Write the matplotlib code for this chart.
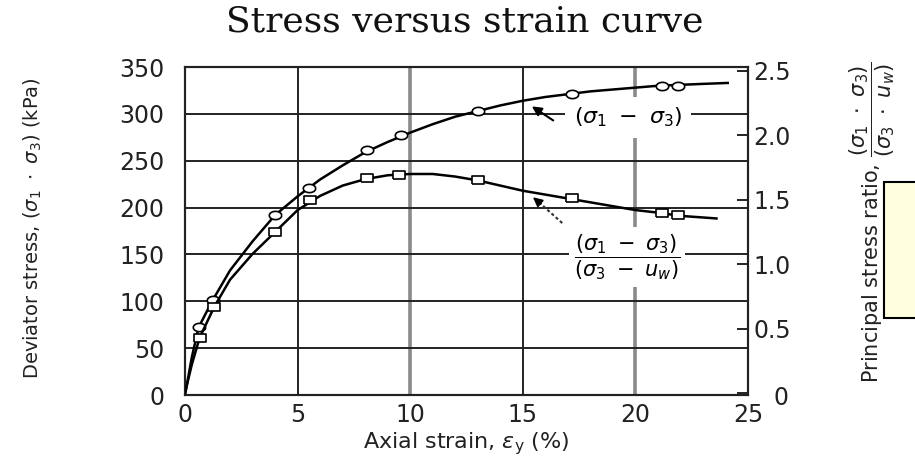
import math
import matplotlib
matplotlib.use('Agg')
import matplotlib.pyplot as plt
import matplotlib.transforms as mtransforms
from matplotlib.patches import Rectangle

# Measured points: deviator stress (kPa) vs axial strain (%)
strain_dev = [0.6, 1.25, 4.0, 5.5, 8.1, 9.6, 13.0, 17.2, 21.2, 21.9]
dev_stress = [73, 101, 192, 221, 261, 277, 303, 321, 330, 330]

# Measured points: principal stress ratio vs axial strain (%)
strain_ratio = [0.65, 1.3, 4.0, 5.55, 8.1, 9.5, 13.0, 17.2, 21.2, 21.9]
stress_ratio = [0.43, 0.67, 1.25, 1.50, 1.67, 1.69, 1.65, 1.51, 1.40, 1.38]

# Smooth curves drawn through the test points
curve_strain_dev = [0, 0.3, 0.6, 1.2, 2, 3, 4, 5, 6, 7, 8, 9, 10, 11, 12, 13,
                    14, 15, 16, 17, 18, 19, 20, 21, 22, 23, 24.1]
curve_dev = [0, 40, 72, 100, 133, 164, 192, 212, 230, 245, 259, 270, 280, 289,
             297, 303, 309, 314, 318, 321, 324, 326, 328, 330, 331, 332, 333]

curve_strain_ratio = [0, 0.3, 0.65, 1.3, 2, 3, 4, 5, 6, 7, 8, 9, 10, 11, 12,
                      13, 14, 15, 16, 17, 18, 19, 20, 21, 22, 23.6]
curve_ratio = [0, 0.22, 0.43, 0.67, 0.88, 1.08, 1.25, 1.42, 1.53, 1.61, 1.66,
               1.69, 1.70, 1.70, 1.68, 1.65, 1.61, 1.57, 1.54, 1.51, 1.48,
               1.45, 1.42, 1.40, 1.375, 1.355]

x_ticks = [0, 5, 10, 15, 20, 25]
y_ticks = [0, 50, 100, 150, 200, 250, 300, 350]
ratio_ticks = [0, 0.5, 1.0, 1.5, 2.0, 2.5]
ratio_labels = ['0', '0.5', '1.0', '1.5', '2.0', '2.5']

plt.rcParams['font.family'] = ['DejaVu Sans']
plt.rcParams['mathtext.fontset'] = 'dejavusans'
INK = '#222222'

fig = plt.figure(figsize=(9.15, 4.59), dpi=100)
ax = fig.add_axes([0.2022, 0.1394, 0.6153, 0.7146])
ax2 = ax.twinx()

ax.set_xlim(0, 25)
ax.set_ylim(0, 350)
ax2.set_ylim(-0.015, 2.53)

# grid drawn by hand so the 10 and 20 lines can be the faded grey ones
for xv in x_ticks[1:-1]:
    if xv in (10, 20):
        ax.axvline(xv, color='#8a8a8a', lw=2.6, zorder=0.5)
    else:
        ax.axvline(xv, color='#222222', lw=1.4, zorder=0.5)
for yv in y_ticks[1:-1]:
    ax.axhline(yv, color='#222222', lw=1.4, zorder=0.5)

# wide markers: oval for stress, flat box for ratio
rect = [(-1.5, -1), (1.5, -1), (1.5, 1), (-1.5, 1), (-1.5, -1)]
oval = [(1.5 * math.cos(t / 20 * 2 * math.pi), math.sin(t / 20 * 2 * math.pi))
        for t in range(21)]

ax.plot(curve_strain_dev, curve_dev, color='black', lw=1.8, zorder=4)
ax.plot(strain_dev, dev_stress, linestyle='none', marker=oval, ms=9,
        mfc='white', mec='black', mew=1.2, zorder=5)

ax2.plot(curve_strain_ratio, curve_ratio, color='black', lw=1.8, zorder=4)
ax2.plot(strain_ratio, stress_ratio, linestyle='none', marker=rect, ms=9,
         mfc='white', mec='black', mew=1.2, zorder=5)

# ticks and labels
ax.set_xticks(x_ticks)
ax.set_yticks(y_ticks)
ax.tick_params(axis='x', length=0, pad=6, labelsize=17, colors=INK)
ax.tick_params(axis='y', length=0, pad=15, labelsize=17, colors=INK)
ax2.set_yticks(ratio_ticks)
ax2.set_yticklabels(ratio_labels)
ax2.tick_params(axis='y', direction='in', length=8, width=1.4, pad=4,
                labelsize=17, colors=INK)

for a in (ax, ax2):
    for s in a.spines.values():
        s.set_linewidth(1.5)
        s.set_color(INK)

fig.canvas.draw()
zero_lbl = ax2.get_yticklabels()[0]
zero_lbl.set_transform(zero_lbl.get_transform() +
                       mtransforms.ScaledTranslation(0.2, -0.02, fig.dpi_scale_trans))

ax.set_xlabel(r'Axial strain, $\epsilon_\mathrm{y}$ (%)', fontsize=16, color=INK)
ax.xaxis.set_label_coords(0.5, -0.107)
ax.set_ylabel(r'Deviator stress, $(\sigma_1\ \cdot\ \sigma_3)$ (kPa)',
              fontsize=14, color=INK)
ax.yaxis.set_label_coords(-0.25, 0.509)

fig.text(0.953, 0.515,
         r'Principal stress ratio, $\dfrac{(\sigma_1\ \cdot\ \sigma_3)}{(\sigma_3\ \cdot\ u_w)}$',
         rotation=90, ha='center', va='center', fontsize=15, color=INK)

fig.text(0.508, 0.932, 'Stress versus strain curve', family='DejaVu Serif',
         fontsize=26, ha='center', va='baseline', color='#111111')

# curve labels with arrows
ax.text(19.67, 296, r'$(\sigma_1\ -\ \sigma_3)$', fontsize=16,
        ha='center', va='center', zorder=3,
        bbox=dict(boxstyle='square,pad=0.4', fc='white', ec='none'))
ax.annotate('', xy=(15.4, 308), xytext=(16.35, 293),
            arrowprops=dict(arrowstyle='-|>', lw=1.5, color='black',
                            mutation_scale=14, shrinkA=0, shrinkB=0), zorder=6)

ax.text(19.63, 147.3, r'$\dfrac{(\sigma_1\ -\ \sigma_3)}{(\sigma_3\ -\ u_w)}$',
        fontsize=15, ha='center', va='center', zorder=3,
        bbox=dict(boxstyle='square,pad=0.25', fc='white', ec='none'))
ax.plot([16.75, 15.75], [183.5, 205], color='#333333', lw=1.5,
        linestyle=(0, (1.5, 1.2)), zorder=6)
ax.annotate('', xy=(15.45, 211), xytext=(15.8, 204),
            arrowprops=dict(arrowstyle='-|>', lw=1.2, color='black',
                            mutation_scale=14, shrinkA=0, shrinkB=0), zorder=6)

# note box at the right edge
fig.patches.append(Rectangle((0.966, 0.307), 0.06, 0.296,
                             transform=fig.transFigure, fc='#ffffe0',
                             ec='black', lw=1.5, zorder=1))

fig.savefig('out.png', dpi=100)
